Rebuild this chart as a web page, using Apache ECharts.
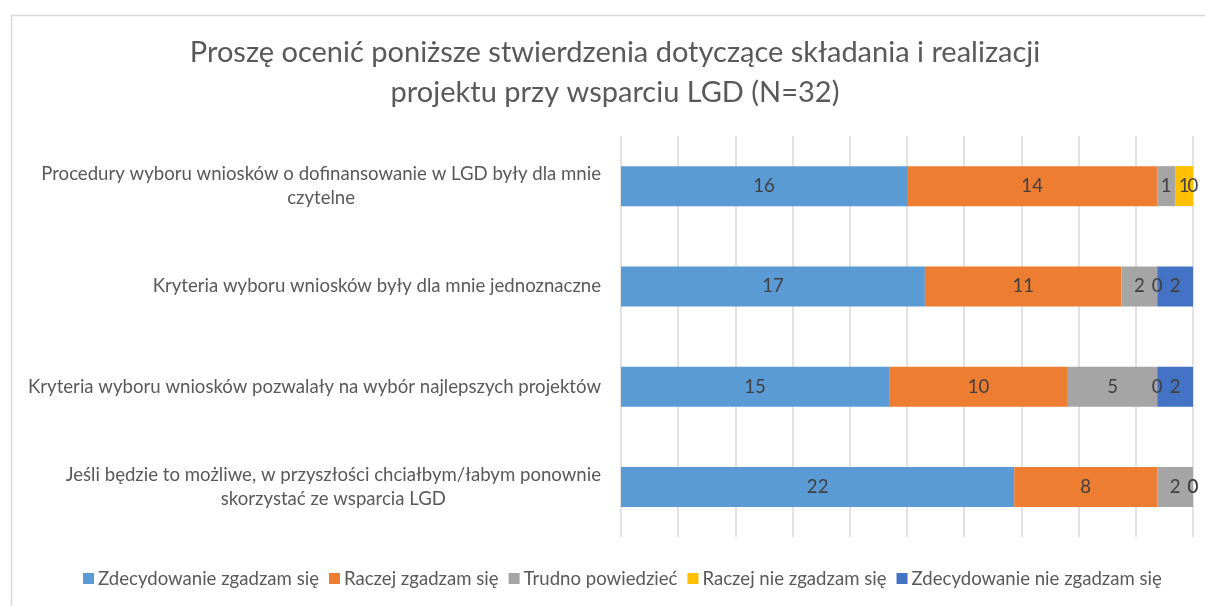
<!DOCTYPE html>
<html>
<head>
<meta charset="utf-8">
<script src="https://cdn.jsdelivr.net/npm/echarts@6/dist/echarts.min.js"></script>
<style>html,body{margin:0;padding:0;background:#fff}#c{width:1205px;height:606px}</style>
</head>
<body>
<div id="c"></div>
<script>
const titleText = 'Proszę ocenić poniższe stwierdzenia dotyczące składania i realizacji\nprojektu przy wsparciu LGD (N=32)';
const categories = [
  'Procedury wyboru wniosków o dofinansowanie w LGD były dla mnie czytelne',
  'Kryteria wyboru wniosków były dla mnie jednoznaczne',
  'Kryteria wyboru wniosków pozwalały na wybór najlepszych projektów',
  'Jeśli będzie to możliwe, w przyszłości chciałbym/łabym ponownie skorzystać ze wsparcia LGD'
];
const seriesNames = ['Zdecydowanie zgadzam się', 'Raczej zgadzam się', 'Trudno powiedzieć', 'Raczej nie zgadzam się', 'Zdecydowanie nie zgadzam się'];
const zdecydowanieTak = [16, 17, 15, 22];
const raczejTak = [14, 11, 10, 8];
const trudno = [1, 2, 5, 2];
const raczejNie = [1, 0, 0, 0];
const zdecydowanieNie = [0, 2, 2, 0];
const seriesValues = [zdecydowanieTak, raczejTak, trudno, raczejNie, zdecydowanieNie];
const colors = ['#5B9BD5', '#ED7D31', '#A5A5A5', '#FFC000', '#4472C4'];

const FONT = 'Lato, "Open Sans", sans-serif';
const LABEL_SIZE = 18.6;
const MAX_LABEL_W = 592;
const ctx = document.createElement('canvas').getContext('2d');
ctx.font = LABEL_SIZE + 'px ' + FONT;
function wrap(text) {
  const words = text.split(' ');
  const lines = [];
  let cur = '';
  for (const w of words) {
    const t = cur ? cur + ' ' + w : w;
    if (ctx.measureText(t).width > MAX_LABEL_W && cur) { lines.push(cur); cur = w; }
    else cur = t;
  }
  if (cur) lines.push(cur);
  return lines.join('\n');
}

const chart = echarts.init(document.getElementById('c'));
chart.setOption({
  animation: false,
  backgroundColor: '#fff',
  color: colors,
  graphic: [{
    type: 'rect', left: 9, top: 13, silent: true, z: -10,
    shape: { width: 1400, height: 800 },
    style: { fill: 'none', stroke: '#D9D9D9', lineWidth: 1.5 }
  }],
  title: {
    text: titleText,
    left: 610, top: 28, textAlign: 'center',
    textStyle: { fontFamily: FONT, fontSize: 29, fontWeight: 'normal', color: '#595959', lineHeight: 40 }
  },
  legend: {
    bottom: 13, left: 78,
    itemWidth: 11, itemHeight: 11, itemGap: 10,
    icon: 'rect',
    textStyle: { fontFamily: FONT, fontSize: 18.6, color: '#595959', padding: [0, 0, 0, -1] },
    data: seriesNames
  },
  grid: { left: 621, right: 12, top: 136, height: 401, containLabel: false },
  xAxis: {
    type: 'value', min: 0, max: 32, interval: 3.2,
    axisLabel: { show: false },
    axisLine: { show: false }, axisTick: { show: false },
    splitLine: { show: true, lineStyle: { color: '#D9D9D9', width: 1.5 } }
  },
  yAxis: {
    type: 'category', inverse: true, data: categories,
    axisLine: { show: false }, axisTick: { show: false },
    axisLabel: {
      margin: 20,
      formatter: v => '{c|' + wrap(v) + '}',
      rich: { c: { align: 'center', fontFamily: FONT, fontSize: LABEL_SIZE, color: '#595959', lineHeight: 24 } }
    }
  },
  series: seriesValues.map((vals, i) => ({
    name: seriesNames[i], type: 'bar', stack: 'total', barWidth: 40,
    data: vals,
    label: { show: true, position: 'inside', color: '#404040', fontFamily: FONT, fontSize: 18.6 },
    itemStyle: { color: colors[i] }
  }))
});
</script>
</body>
</html>
